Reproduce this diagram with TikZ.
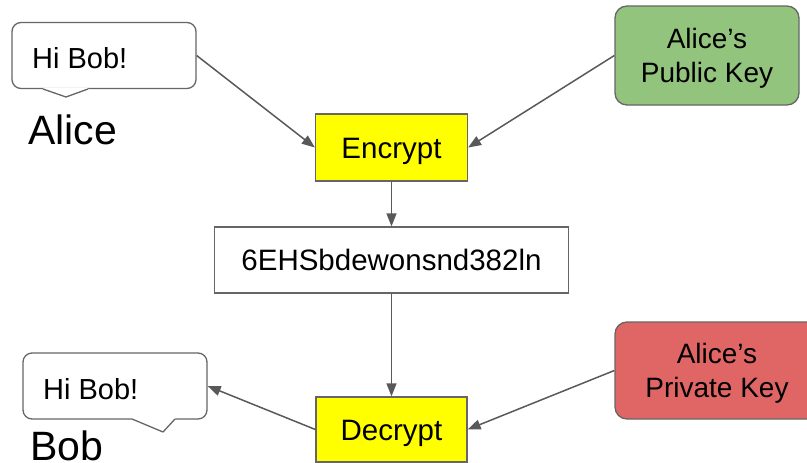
\documentclass[tikz,border=0pt]{standalone}
\usepackage{fontspec}
\setmainfont{Liberation Sans}
\usetikzlibrary{arrows.meta}
\definecolor{edgegray}{HTML}{666666}
\definecolor{arrowgray}{HTML}{595959}
\definecolor{keygreen}{HTML}{93C47D}
\definecolor{keyred}{HTML}{E06666}
\definecolor{opyellow}{HTML}{FFFF00}
\begin{document}
\begin{tikzpicture}[x=1pt,y=-1pt,
  border/.style={draw=edgegray, line width=1.3pt},
  box/.style={border, inner sep=0pt, text height=21pt, text depth=0pt,
    font=\fontsize{29.5}{34}\selectfont},
  keybox/.style={border, rounded corners=12pt, inner sep=0pt, align=center,
    text depth=0pt, font=\fontsize{28}{34}\selectfont},
  bubble/.style={border, fill=white, rounded corners=9pt, inner sep=0pt,
    minimum width=184pt, minimum height=66pt},
  bubtext/.style={inner sep=0pt, font=\fontsize{29}{34}\selectfont},
  person/.style={inner sep=0pt, font=\fontsize{41}{46}\selectfont},
  link/.style={draw=arrowgray, line width=1.5pt,
    -{Triangle[length=13pt,width=10pt]}}
]
\useasboundingbox (0,0) rectangle (807,463);
\clip (0,0) rectangle (807,463);

% sender side
\node[bubble] (alicebub) at (104,55.5) {};
\fill[white] (43,87.5) -- (88,87.5) -- (88,89) -- (66,97) -- (43,89) -- cycle;
\draw[border, line join=round] (43,89) -- (66,97) -- (88,89);
\node[bubtext, anchor=base west] (alicemsg) at (32,68) {Hi Bob!};
\node[person, anchor=base west] (alice) at (28,144) {Alice};

% receiver side
\node[bubble] (bobbub) at (115,386) {};
\fill[white] (132,417.5) -- (175,417.5) -- (175,419) -- (163,432) -- (132,419) -- cycle;
\draw[border, line join=round] (132,419) -- (163,432) -- (175,419);
\node[bubtext, anchor=base west] (bobmsg) at (43,399) {Hi Bob!};
\node[person, anchor=base west] (bob) at (30,460) {Bob};

% keys
\node[keybox, fill=keygreen, minimum width=184pt, minimum height=99pt]
  (pub) at (707,55.5) {Alice’s\\Public Key};
\node[keybox, fill=keyred, minimum width=204pt, minimum height=97pt]
  (priv) at (717,370.5) {Alice’s\\Private Key};

% operations and ciphertext
\node[box, fill=opyellow, minimum width=152pt, minimum height=67pt]
  (enc) at (391.5,147.5) {Encrypt};
\node[box, fill=white, minimum width=354pt, minimum height=66pt]
  (cipher) at (391.5,260) {6EHSbdewonsnd382ln};
\node[box, fill=opyellow, minimum width=151pt, minimum height=65pt]
  (dec) at (391.5,429.5) {Decrypt};

% connectors
\draw[link] (alicebub.east) -- (enc.west);
\draw[link] (pub.west) -- (enc.east);
\draw[link] (enc.south) -- (cipher.north);
\draw[link] (cipher.south) -- (dec.north);
\draw[link] (priv.west) -- (dec.east);
\draw[link] (dec.west) -- (bobbub.east);
\end{tikzpicture}
\end{document}
